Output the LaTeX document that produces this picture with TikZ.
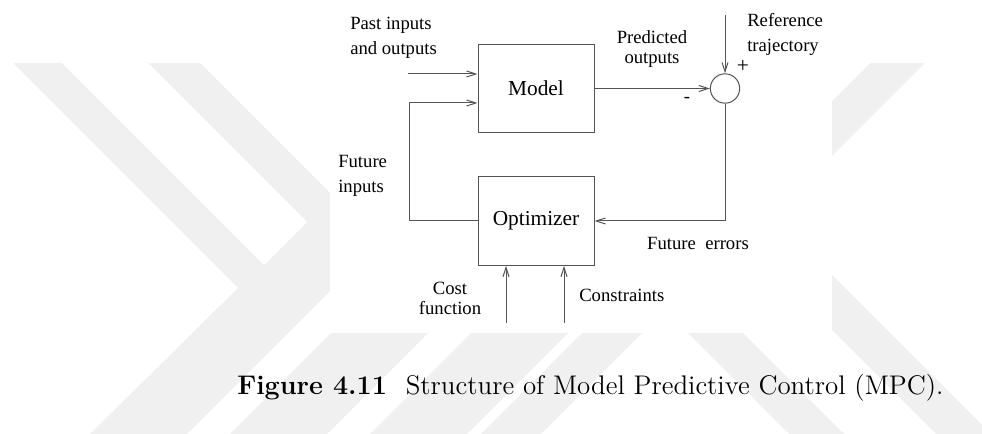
\documentclass[tikz,border=0pt]{standalone}
\usepackage{fontspec}
\usepackage{tikz}
\usetikzlibrary{arrows.meta}
\newfontfamily\diagfont{Liberation Serif}
\newfontfamily\capfont{lmroman12-regular.otf}[BoldFont=lmroman12-bold.otf]
\definecolor{markgray}{gray}{0.94}
\definecolor{wirecol}{gray}{0.33}

\begin{document}
\begin{tikzpicture}[x=0.75pt,y=0.75pt,yscale=-1,xscale=1,
	blockbox/.style={draw=wirecol, line width=0.75pt, minimum width=87pt, minimum height=66.5pt, inner sep=0pt, font=\diagfont\fontsize{16}{19}\selectfont},
	sumnode/.style={draw=wirecol, line width=0.75pt, circle, minimum size=22pt, inner sep=0pt},
	sig/.style={draw=wirecol, line width=0.75pt, -{Straight Barb[length=7pt,width=4.5pt]}},
	lbl/.style={inner sep=0pt, font=\diagfont\fontsize{14}{18.75}\selectfont},
	lbltight/.style={inner sep=0pt, font=\diagfont\fontsize{14}{15}\selectfont}]
		\path[use as bounding box] (0,0) rectangle (982,434);
		
		%Shape: chevron band left
		\fill[markgray] (13,63) -- (200,63) -- (360,223) -- (360,261) -- (187,434) -- (90,434) -- (238,288) -- cycle ;
		\fill[white] (62,63) -- (148,63) -- (307,222) -- (264,265) -- cycle ;
		%Shape: bands along the bottom
		\fill[markgray] (230,434) -- (327,434) -- (428,333) -- (331,333) -- cycle ;
		\fill[markgray] (370,434) -- (467,434) -- (568,333) -- (471,333) -- cycle ;
		\fill[markgray] (481,434) -- (541,434) -- (642,333) -- (582,333) -- cycle ;
		\fill[markgray] (688,333) -- (743,333) -- (844,434) -- (789,434) -- cycle ;
		%Shape: chevron band right
		\fill[markgray] (870,63) -- (925,63) -- (800,188) -- (745,188) -- cycle ;
		\fill[markgray] (800,298) -- (800,243) -- (982,425) -- (982,434) -- (936,434) -- cycle ;
		%Shape: figure panel
		\fill[white] (330,0) rectangle (832,333) ;
		
		%Flowchart: Process
		\node[blockbox] (model) at (536,88.5) {Model};
		%Flowchart: Process
		\node[blockbox] (optim) at (536,221) {Optimizer};
		%Shape: Circle
		\node[sumnode] (sum) at (725,88.5) {};
		
		\coordinate (pastin) at (408,74);
		\coordinate (refin) at (725,15);
		\coordinate (futin) at (409,103);
		\coordinate (costin) at (506,323);
		\coordinate (consin) at (564,323);
		
		%Straight Lines
		\draw[sig] (pastin) -- (pastin -| model.west);
		\draw[sig] (optim.west) -- (optim.west -| futin) -- (futin) -- (futin -| model.west);
		\draw[sig] (model.east) -- (sum.west);
		\draw[sig] (refin) -- (sum.north);
		\draw[sig] (sum.south) |- (optim.east);
		\draw[sig] (costin) -- (costin |- optim.south);
		\draw[sig] (consin) -- (consin |- optim.south);
		
		% Text Node
		\node[lbl, anchor=base west, align=left] (pastlbl) at (350,55) {Past inputs\\and outputs};
		% Text Node
		\node[lbltight, anchor=base, align=center] (predlbl) at (652,64) {Predicted\\outputs};
		% Text Node
		\node[lbl, anchor=base west, align=left] (reflbl) at (747,51.7) {Reference\\trajectory};
		% Text Node
		\node[lbl, font=\diagfont\fontsize{16}{19}\selectfont] (pluslbl) at (743,66) {+};
		% Text Node
		\node[lbl] (minuslbl) at (687,100) {-};
		% Text Node
		\node[lbl, anchor=base west, align=left] (futinlbl) at (338,193) {Future\\inputs};
		% Text Node
		\node[lbl, anchor=base] (errlbl) at (698,250) {Future\ \ errors};
		% Text Node
		\node[lbltight, anchor=base, align=center] (costlbl) at (450,315) {Cost\\function};
		% Text Node
		\node[lbl, anchor=base west] (conslbl) at (579,301.7) {Constraints};
		% Text Node
		\node[anchor=base west, inner sep=0pt, font=\capfont\fontsize{20.2}{24}\selectfont] (caption) at (237,395) {\textbf{Figure 4.11}\hspace{0.7em}Structure of Model Predictive Control (MPC).};
\end{tikzpicture}
\end{document}
